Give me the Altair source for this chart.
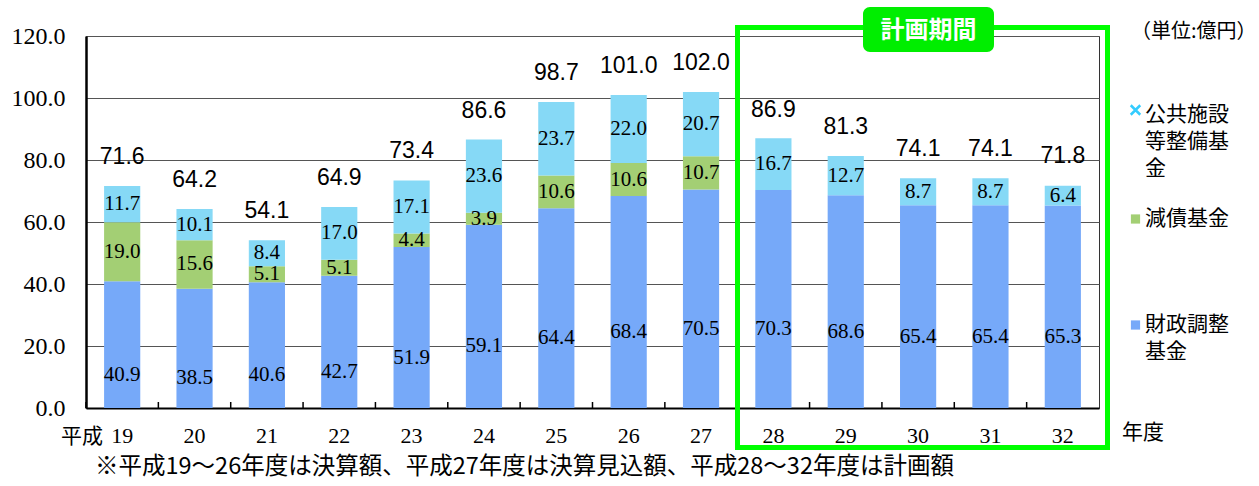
import altair as alt
import pandas as pd

# Fiscal years (Heisei era) and fund balances in 100 million yen
years = ["19", "20", "21", "22", "23", "24", "25", "26", "27", "28", "29", "30", "31", "32"]
fiscal_adjustment = [40.9, 38.5, 40.6, 42.7, 51.9, 59.1, 64.4, 68.4, 70.5, 70.3, 68.6, 65.4, 65.4, 65.3]
debt_reduction = [19.0, 15.6, 5.1, 5.1, 4.4, 3.9, 10.6, 10.6, 10.7, 0, 0, 0, 0, 0]
public_facilities = [11.7, 10.1, 8.4, 17.0, 17.1, 23.6, 23.7, 22.0, 20.7, 16.7, 12.7, 8.7, 8.7, 6.4]
totals = [71.6, 64.2, 54.1, 64.9, 73.4, 86.6, 98.7, 101.0, 102.0, 86.9, 81.3, 74.1, 74.1, 71.8]

series_names = ["財政調整基金", "減債基金", "公共施設等整備基金"]
series_colors = ["#76a9f9", "#a3cf74", "#86d9f6"]
legend_labels = ["公共施設\n等整備基\n金", "減債基金", "財政調整\n基金"]

W, H = 1013, 372
SERIF = "Liberation Serif"
SANS = "Liberation Sans"
JP = "Noto Sans CJK JP"

# Long table with stacked extents for every segment
rows = []
for i, y in enumerate(years):
    base = 0.0
    for k, vals in enumerate([fiscal_adjustment, debt_reduction, public_facilities]):
        v = vals[i]
        if v > 0:
            rows.append({"year": y, "series": series_names[k], "order": k, "value": v,
                         "start": base, "end": base + v, "mid": base + v / 2,
                         "label": f"{v:.1f}"})
        base += v
seg = pd.DataFrame(rows)
tot = pd.DataFrame({"year": years, "total": totals, "label": [f"{t:.1f}" for t in totals]})

x_enc = alt.X("year:N", sort=years,
              scale=alt.Scale(domain=years, paddingInner=0, paddingOuter=0),
              axis=alt.Axis(title=None, labelAngle=0, labelFont=SERIF, labelFontSize=22,
                            labelColor="#000", labelPadding=17, ticks=False,
                            domainColor="#000", domainWidth=2, grid=False))
y_scale = alt.Scale(domain=[0, 120], nice=False)
y_axis = alt.Axis(title=None, values=[0, 20, 40, 60, 80, 100, 120], format=".1f",
                  labelFont=SERIF, labelFontSize=24, labelColor="#000", labelPadding=21,
                  ticks=False, domainColor="#000", domainWidth=2.5,
                  gridColor="#555", gridWidth=1)

color_enc = alt.Color("series:N", scale=alt.Scale(domain=series_names, range=series_colors),
                      legend=None)

bars = alt.Chart(seg).mark_bar(width={"band": 0.5}).encode(
    x=x_enc,
    y=alt.Y("start:Q", scale=y_scale, axis=y_axis),
    y2="end:Q",
    color=color_enc,
    order="order:Q",
)

base_labels = alt.Chart(seg).transform_filter(alt.datum.order == 0).mark_text(
    font=SERIF, fontSize=21, color="#000", baseline="middle", dy=30
).encode(x=alt.X("year:N", sort=years), y=alt.Y("mid:Q", scale=y_scale), text="label:N")

upper_labels = alt.Chart(seg).transform_filter(alt.datum.order > 0).mark_text(
    font=SERIF, fontSize=21, color="#000", baseline="middle"
).encode(x=alt.X("year:N", sort=years), y=alt.Y("mid:Q", scale=y_scale), text="label:N")

total_labels = alt.Chart(tot).mark_text(
    font=SANS, fontSize=23, color="#000", baseline="middle", dy=-29
).encode(x=alt.X("year:N", sort=years), y=alt.Y("total:Q", scale=y_scale), text="label:N")

# Small inward tick marks between categories on the bottom axis
ticks = alt.Chart(tot).mark_rule(color="#000", strokeWidth=1.5).encode(
    x=alt.X("year:N", sort=years, bandPosition=0),
    y=alt.value(H), y2=alt.value(H - 6),
)

one = pd.DataFrame({"k": [0]})

era_prefix = alt.Chart(one).mark_text(font=JP, fontSize=21, color="#000", baseline="middle").encode(
    x=alt.value(-4), y=alt.value(H + 29), text=alt.value("平成"))
year_suffix = alt.Chart(one).mark_text(font=JP, fontSize=21, color="#000", baseline="middle",
                                        align="left").encode(
    x=alt.value(1036), y=alt.value(H + 25), text=alt.value("年度"))
unit_note = alt.Chart(one).mark_text(font=JP, fontSize=20, color="#000", baseline="middle",
                                      align="left").encode(
    x=alt.value(1045), y=alt.value(-4), text=alt.value("（単位:億円）"))
footnote = alt.Chart(one).mark_text(font=JP, fontSize=23.5, color="#000", baseline="middle",
                                     align="left").encode(
    x=alt.value(9), y=alt.value(H + 59),
    text=alt.value("※平成19～26年度は決算額、平成27年度は決算見込額、平成28～32年度は計画額"))

# Planning-period frame and its heading tag
plan_frame = alt.Chart(one).mark_rect(fill="transparent", stroke="#00ff00", strokeWidth=5).encode(
    x=alt.value(651.5), x2=alt.value(1021.5), y=alt.value(-8.5), y2=alt.value(411.5))
plan_tag = alt.Chart(one).mark_rect(fill="#00ee00", cornerRadius=7).encode(
    x=alt.value(777), x2=alt.value(908), y=alt.value(-29), y2=alt.value(16))
plan_text = alt.Chart(one).mark_text(font=JP, fontSize=24, fontWeight="bold", color="#fff",
                                      baseline="middle").encode(
    x=alt.value(842.5), y=alt.value(-5), text=alt.value("計画期間"))

# Legend drawn at the right of the plot
legend_layers = []
legend_rows = [(79, 0), (183, 1), (289, 2)]
for (ly, idx) in legend_rows:
    k = 2 - idx
    if k == 2:
        sym = alt.Chart(one).mark_point(shape="M-1,-1L1,1M1,-1L-1,1", filled=False, size=90,
                                        strokeWidth=2.5, color="#33ccff", opacity=1).encode(
            x=alt.value(1049.5), y=alt.value(74))
    else:
        sym = alt.Chart(one).mark_square(size=85, color=series_colors[k], opacity=1).encode(
            x=alt.value(1049.5), y=alt.value(ly))
    txt = alt.Chart(one).mark_text(font=JP, fontSize=21, color="#000", baseline="middle",
                                   align="left", lineBreak="\n", lineHeight=27).encode(
        x=alt.value(1059), y=alt.value(ly), text=alt.value(legend_labels[idx]))
    legend_layers += [sym, txt]

chart = alt.layer(
    bars, base_labels, upper_labels, total_labels, ticks,
    era_prefix, year_suffix, unit_note, footnote,
    plan_frame, plan_tag, plan_text, *legend_layers,
).properties(
    width=W, height=H,
    autosize=alt.AutoSizeParams(type="none"),
    padding={"left": 86, "top": 36, "right": 160, "bottom": 78},
    background="#ffffff",
).configure_view(stroke="#333", strokeWidth=1)

chart.save("out.html", embed_options={"renderer": "svg", "actions": False})
